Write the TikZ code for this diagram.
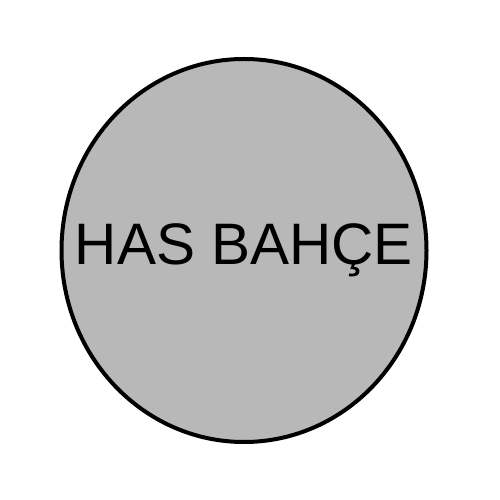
\documentclass[tikz,border=0pt]{standalone}
\usepackage{fontspec}
\setmainfont{Liberation Sans}
\usetikzlibrary{shapes.geometric}
\definecolor{gardengray}{RGB}{184,184,184}
\begin{document}
\begin{tikzpicture}[x=1pt,y=1pt]
	\tikzstyle{garden}=[ellipse,draw=black,line width=4pt,fill=gardengray,minimum width=365pt,minimum height=383pt,inner sep=0pt]
	\useasboundingbox (0,0) rectangle (500,500);
	\node [garden] (hasbahce) at (244,249.5) {};
	\node [anchor=base,inner sep=0pt,font=\fontsize{58.5}{60}\selectfont] (label) at (244,235.5) {HAS BAHÇE};
\end{tikzpicture}
\end{document}
